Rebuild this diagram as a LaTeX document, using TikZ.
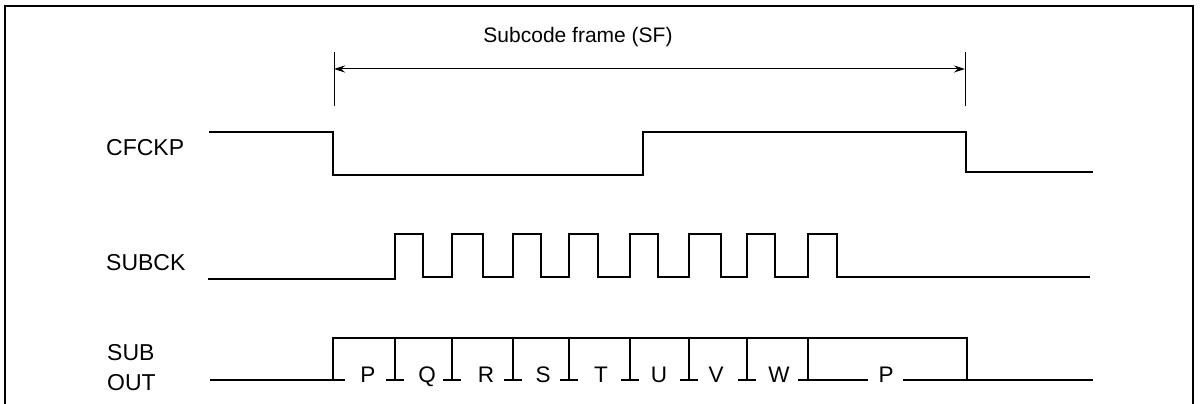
\documentclass[tikz,border=0pt]{standalone}
\usepackage{fontspec}
\setmainfont{Liberation Sans}
\usetikzlibrary{arrows.meta}
\begin{document}
\begin{tikzpicture}[x=1pt,y=-1pt,
  sig/.style={line width=2pt, line join=miter},
  thin/.style={line width=1pt},
  lbl/.style={anchor=base west, inner sep=0pt, font=\fontsize{23}{26}\selectfont},
  ltr/.style={anchor=base, inner sep=0pt, font=\fontsize{22.5}{26}\selectfont},
  ttl/.style={anchor=base, inner sep=0pt, font=\fontsize{21}{24}\selectfont},
  tick/.style={line width=1.6pt}]
\useasboundingbox (0,0) rectangle (1200,404);
% frame
\draw[line width=2.5pt] (5,410) -- (5,6) -- (1193,6) -- (1193,410);
% title and span arrow
\node[ttl] (title) at (578,43) {Subcode frame (SF)};
\coordinate (tla) at (334,52); \coordinate (tlb) at (334,106);
\coordinate (tra) at (965,52); \coordinate (trb) at (965,106);
\draw[thin] (tla) -- (tlb);
\draw[thin] (tra) -- (trb);
\coordinate (al) at (334,69); \coordinate (ar) at (965,69);
\draw[thin, {Stealth[length=11pt,width=7pt]}-{Stealth[length=11pt,width=7pt]}] (al) -- (ar);
% labels
\node[lbl] (cfckp) at (106,155) {CFCKP};
\node[lbl] (subck) at (106,270) {SUBCK};
\node[lbl] (sub) at (107,360) {SUB};
\node[lbl] (out) at (107,390) {OUT};
% CFCKP waveform
\draw[sig] (209,132) -- (333,132) -- (333,175) -- (643,175) -- (643,132) -- (966,132) -- (966,172) -- (1093,172);
% SUBCK waveform
\draw[sig] (208,279) -- (395,279) -- (395,234) -- (423,234) -- (423,277)
  -- (452,277) -- (452,234) -- (483,234) -- (483,277)
  -- (513,277) -- (513,234) -- (541,234) -- (541,277)
  -- (569,277) -- (569,234) -- (598,234) -- (598,277)
  -- (630,277) -- (630,234) -- (658,234) -- (658,277)
  -- (689,277) -- (689,234) -- (721,234) -- (721,277)
  -- (747,277) -- (747,234) -- (775,234) -- (775,277)
  -- (808,277) -- (808,234) -- (837,234) -- (837,277) -- (1090,277);
% SUB OUT waveform
\draw[sig] (210,380) -- (345,380);
\draw[sig] (333,380) -- (333,338) -- (967,338) -- (967,380);
\foreach \x in {395,452,513,569,630,689,747} {
  \draw[tick] (\x,338) -- (\x,380);
  \draw[tick] (\x-9,380) -- (\x+9,380);
}
\draw[tick] (808,338) -- (808,380);
\draw[sig] (798,380) -- (868,380);
\draw[sig] (903,380) -- (1093,380);
% data letters
\node[ltr] (p1) at (368,382) {P};
\node[ltr] (q) at (427,382) {Q};
\node[ltr] (r) at (486,382) {R};
\node[ltr] (s) at (543,382) {S};
\node[ltr] (t) at (601,382) {T};
\node[ltr] (u) at (659,382) {U};
\node[ltr] (v) at (716,382) {V};
\node[ltr] (w) at (779,382) {W};
\node[ltr] (p2) at (886,382) {P};
\end{tikzpicture}
\end{document}
